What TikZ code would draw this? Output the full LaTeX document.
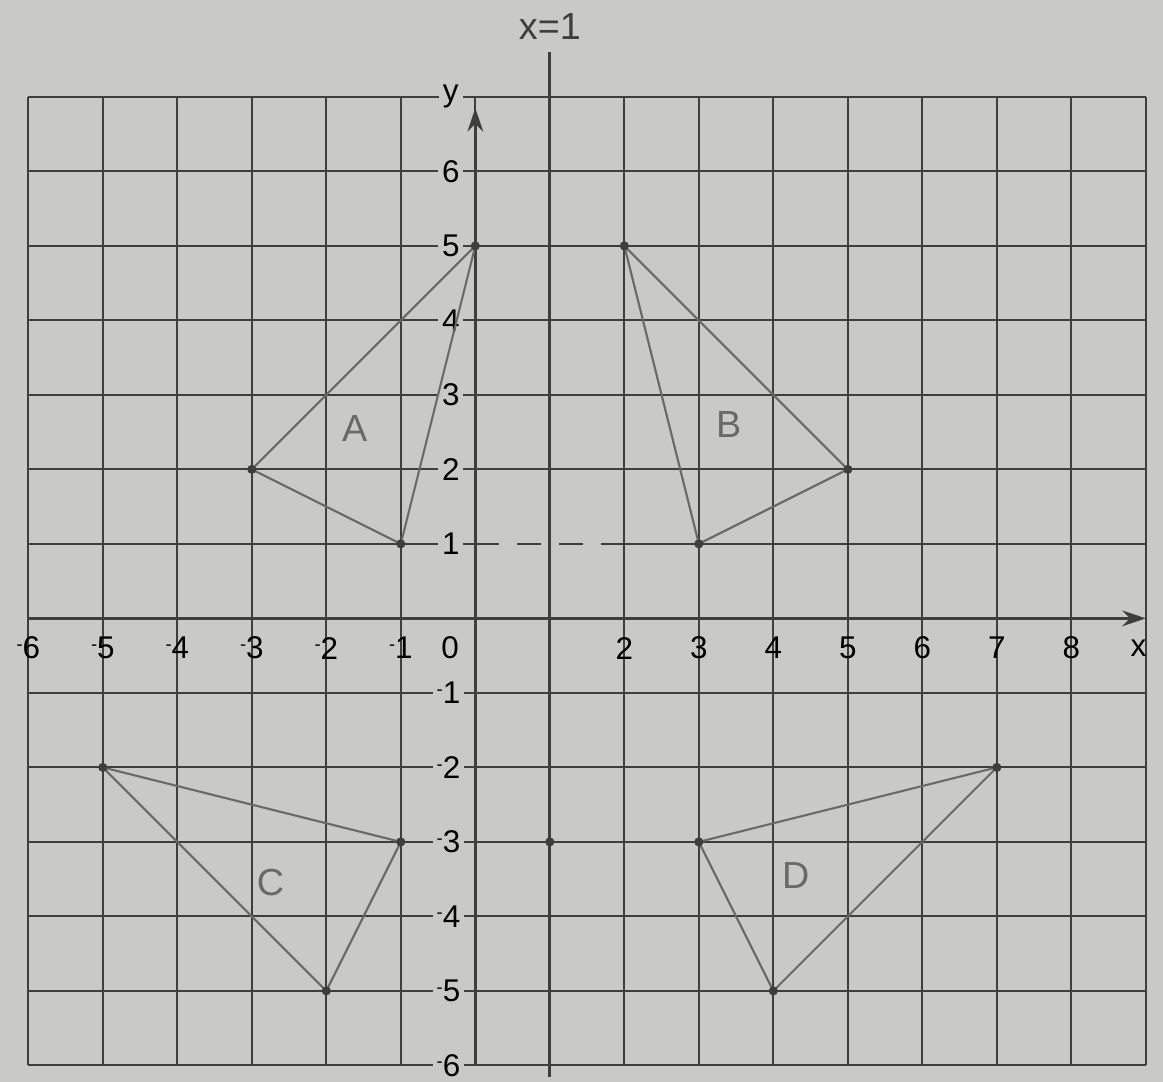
\documentclass[tikz,border=0pt]{standalone}
\usepackage{fontspec}
\setmainfont{Liberation Sans}
\usetikzlibrary{arrows.meta}
\definecolor{paper}{RGB}{201,201,199}
\definecolor{ink}{RGB}{62,62,62}
\definecolor{pencil}{RGB}{105,105,105}
\newcommand{\minusnum}[1]{\raisebox{0.5ex}{\scriptsize -}#1}

\begin{document}
\begin{tikzpicture}[
    gridline/.style={ink, line width=0.7pt},
    axisline/.style={ink, line width=1pt, -{Stealth[length=9pt,width=6pt]}},
    tripath/.style={pencil, line width=0.8pt},
    ticklabel/.style={fill=paper, inner sep=1.5pt, font=\large},
    trilabel/.style={pencil, font=\Large},
    vertexdot/.style={circle, fill=ink, inner sep=0pt, minimum size=3.5pt}
]
\fill[paper] (-6.38,-6.22) rectangle (9.23,8.3);
\useasboundingbox (-6.38,-6.22) rectangle (9.23,8.3);
% grid
\foreach \x in {-6,...,9}
    \draw[gridline] (\x,-6) -- (\x,7);
\foreach \y in {-6,...,-1,2,3,...,7}
    \draw[gridline] (-6,\y) -- (9,\y);
\draw[gridline] (-6,1) -- (0,1);
\draw[gridline, dashed, dash pattern=on 9pt off 7pt] (0,1) -- (2,1);
\draw[gridline] (2,1) -- (9,1);
% mirror line
\draw[ink, line width=1.1pt] (1,-6.15) -- (1,7.6)
    node[above=1pt, font=\Large] (mirror) {x=1};
% axes
\draw[axisline] (-6,0) -- (9,0);
\draw[axisline] (0,-6) -- (0,6.85);
\node[ticklabel] (ylab) at (-0.33,7) {y};
\node[font=\large] (xlab) at (8.9,-0.4) {x};
\foreach \x in {-6,...,-1}
    \node[font=\large] (xt\x) at (\x,-0.4) {\minusnum{\the\numexpr-\x\relax}};
\node[font=\large] (xt0) at (-0.34,-0.4) {0};
\foreach \x in {2,...,8}
    \node[font=\large] (xt\x) at (\x,-0.4) {\x};
\foreach \y in {1,...,6}
    \node[ticklabel] (yt\y) at (-0.33,\y) {\y};
\foreach \y in {-6,...,-1}
    \node[ticklabel] (yt\y) at (-0.36,\y) {\minusnum{\the\numexpr-\y\relax}};
% triangles
\coordinate (a1) at (0,5);
\coordinate (a2) at (-3,2);
\coordinate (a3) at (-1,1);
\coordinate (b1) at (2,5);
\coordinate (b2) at (5,2);
\coordinate (b3) at (3,1);
\coordinate (c1) at (-5,-2);
\coordinate (c2) at (-1,-3);
\coordinate (c3) at (-2,-5);
\coordinate (d1) at (7,-2);
\coordinate (d2) at (3,-3);
\coordinate (d3) at (4,-5);
\foreach \t in {a,b,c,d}
    \draw[tripath] (\t1) -- (\t2) -- (\t3) -- cycle;
\foreach \t in {a,b,c,d}
    \foreach \i in {1,2,3}
        \node[vertexdot] at (\t\i) {};
\node[vertexdot] (m3) at (1,-3) {};
\node[trilabel] (lA) at (-1.62,2.55) {A};
\node[trilabel] (lB) at (3.4,2.6) {B};
\node[trilabel] (lC) at (-2.75,-3.55) {C};
\node[trilabel] (lD) at (4.3,-3.45) {D};
\end{tikzpicture}
\end{document}
